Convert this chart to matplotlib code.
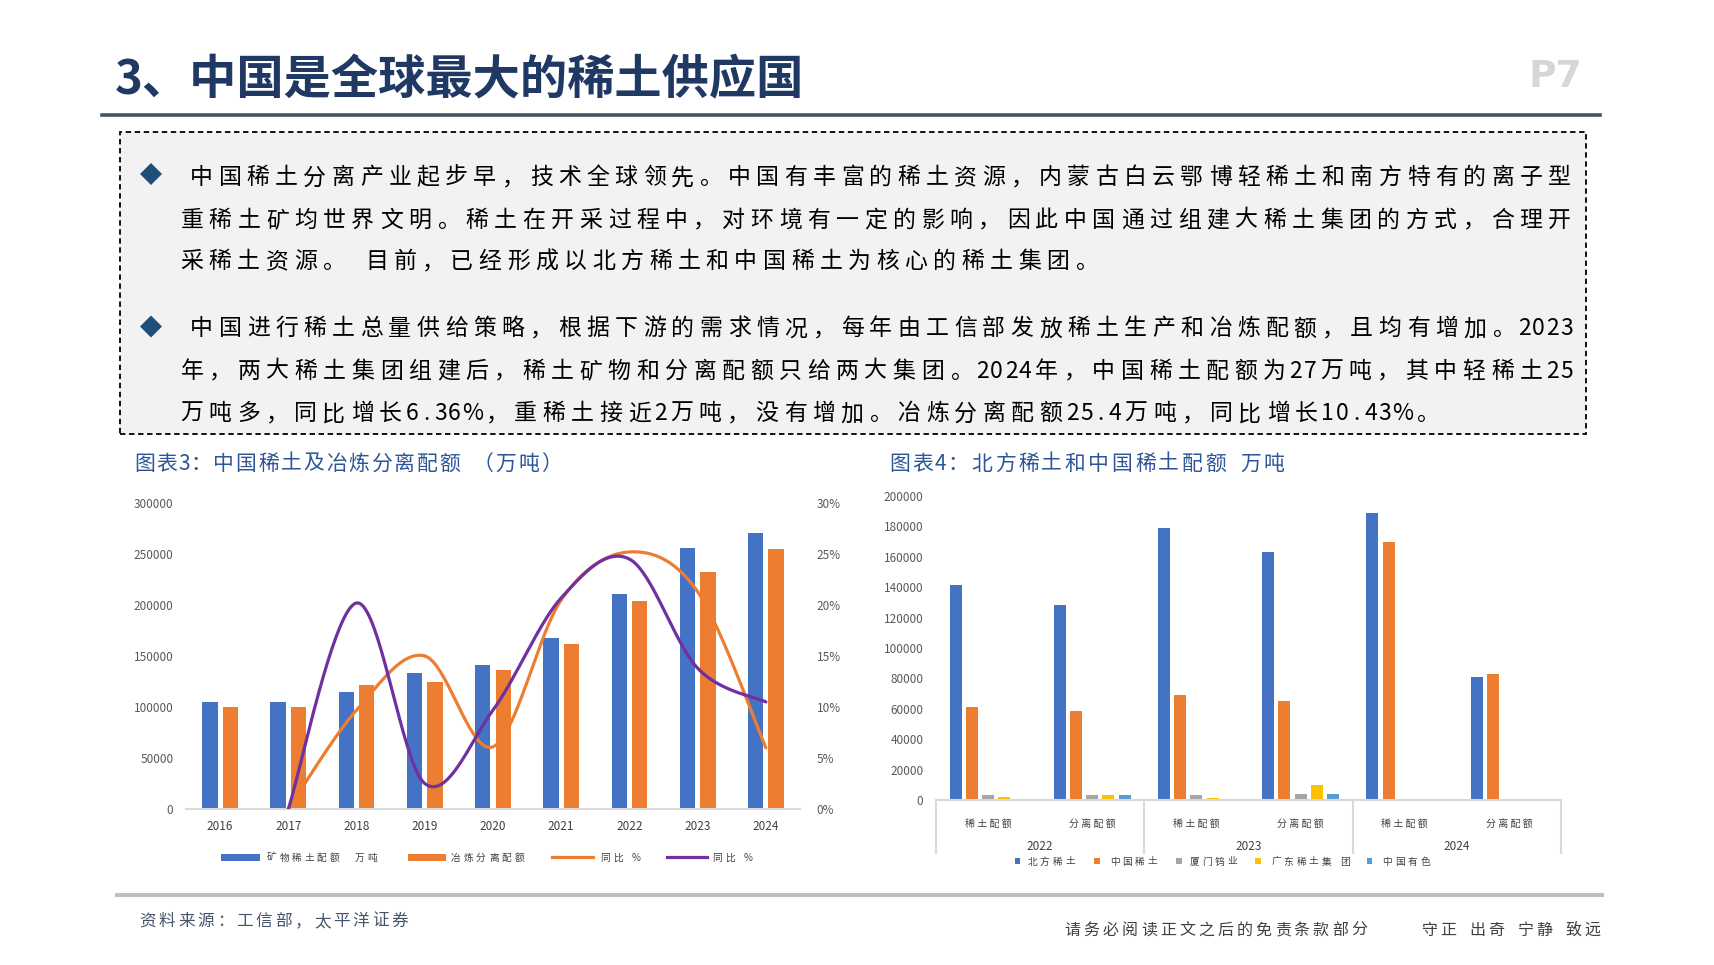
import numpy as np
import matplotlib
matplotlib.use("Agg")
import matplotlib.pyplot as plt
from matplotlib.patches import Rectangle, Polygon
from matplotlib.lines import Line2D

plt.rcParams['font.family'] = ['Noto Sans CJK SC', 'DejaVu Sans']

# ---- data: chart 3 ----
years = ['2016', '2017', '2018', '2019', '2020', '2021', '2022', '2023', '2024']
mine_quota = [105000, 105000, 115000, 133000, 141000, 168000, 211000, 256000, 271000]
smelt_quota = [100000, 100000, 122000, 125000, 136000, 162000, 204000, 232000, 255000]
yoy_smelt = [0, 9.7, 15.0, 6.1, 20.5, 25.2, 21.3, 6.0]     # 2017-2024, %
yoy_mine = [0, 20.2, 2.5, 9.7, 20.7, 24.5, 13.8, 10.5]     # 2017-2024, %

# ---- data: chart 4 ----
quota_cats = ['稀土配额', '分离配额', '稀土配额', '分离配额', '稀土配额', '分离配额']
quota_years = ['2022', '2023', '2024']
north_re = [141650, 128200, 178650, 163000, 188600, 80900]
china_re = [61200, 58500, 69100, 65100, 169600, 82900]
xiamen_w = [3300, 3300, 3300, 3900, 0, 0]
guangdong_re = [2000, 3300, 1500, 9900, 0, 0]
china_nf = [0, 3300, 0, 3900, 0, 0]
company_names = ['北方稀土', '中国稀土', '厦门钨业', '广东稀土集 团', '中国有色']

# ---- text ----
title = '3、中国是全球最大的稀土供应国'
para1 = ['中国稀土分离产业起步早，技术全球领先。中国有丰富的稀土资源，内蒙古白云鄂博轻稀土和南方特有的离子型',
         '重稀土矿均世界文明。稀土在开采过程中，对环境有一定的影响，因此中国通过组建大稀土集团的方式，合理开',
         '采稀土资源。 目前，已经形成以北方稀土和中国稀土为核心的稀土集团。']
para2 = ['中国进行稀土总量供给策略，根据下游的需求情况，每年由工信部发放稀土生产和冶炼配额，且均有增加。2023',
         '年，两大稀土集团组建后，稀土矿物和分离配额只给两大集团。2024年，中国稀土配额为27万吨，其中轻稀土25',
         '万吨多，同比增长6.36%，重稀土接近2万吨，没有增加。冶炼分离配额25.4万吨，同比增长10.43%。']

W, H = 1715, 965
fig = plt.figure(figsize=(W / 100, H / 100), dpi=100)
fig.patch.set_facecolor('white')


def fx(px):
    return px / W


def fy(py):
    return 1 - py / H


def weight(ch, space=0.5):
    if ch == ' ':
        return space
    if ch == '%':
        return 0.75
    if ord(ch) < 128:
        return 0.5
    return 1.0


def spaced(x, yc, s, pitch, size, color='black', space=0.5, **kw):
    # x = left edge of first cell, yc = vertical centre of the CJK glyphs (px from top)
    em = size * 100 / 72
    base = yc + 0.36 * em
    pos = x
    for ch in s:
        w = weight(ch, space) * pitch
        if ch != ' ':
            fig.text(fx(pos + w / 2), fy(base), ch, ha='center', va='baseline',
                     fontsize=size, color=color, **kw)
        pos += w


def justify(x0, x1, yc, s, size, color='black'):
    pitch = (x1 - x0) / sum(weight(c) for c in s)
    spaced(x0, yc, s, pitch, size, color)


# Catmull-Rom smoothing, like Excel's smoothed lines
def smooth(xs, ys, n=40):
    pts = np.column_stack([xs, ys]).astype(float)
    p = np.vstack([pts[0], pts, pts[-1]])
    t = np.linspace(0, 1, n)[:, None]
    out = []
    for i in range(1, len(p) - 2):
        p0, p1, p2, p3 = p[i - 1], p[i], p[i + 1], p[i + 2]
        seg = 0.5 * (2 * p1 + (-p0 + p2) * t + (2 * p0 - 5 * p1 + 4 * p2 - p3) * t ** 2
                     + (-p0 + 3 * p1 - 3 * p2 + p3) * t ** 3)
        out.append(seg)
    return np.vstack(out)


# ---- header ----
em_t = 34 * 100 / 72
fig.text(fx(115), fy(77 + 0.36 * em_t), title, fontsize=34, fontweight='bold',
         color='#1F3864', ha='left', va='baseline')
fig.text(fx(1582), fy(77), 'P7', fontsize=27, fontweight='bold', color='#D6D6D6',
         ha='right', va='center', family='DejaVu Sans')
fig.add_artist(Line2D([fx(102), fx(1600)], [fy(115), fy(115)], color='#44546A', lw=2.6))

# ---- dashed text box ----
fig.add_artist(Rectangle((fx(120), fy(434)), fx(1586) - fx(120), fy(132) - fy(434),
                         facecolor='#F2F2F2', edgecolor='black', lw=1.3,
                         linestyle=(0, (3, 2))))


def diamond(cx, cy, r=11):
    pts = [(fx(cx - r), fy(cy)), (fx(cx), fy(cy - r)), (fx(cx + r), fy(cy)), (fx(cx), fy(cy + r))]
    fig.add_artist(Polygon(pts, closed=True, facecolor='#1F4E79', edgecolor='none'))


body_size = 16.5
diamond(151, 174)
justify(187.6, 1573.7, 176, para1[0], body_size)
justify(177.6, 1573.7, 218.5, para1[1], body_size)
spaced(177.6, 260, para1[2], 28.4, body_size)
diamond(151, 326.5)
justify(187.6, 1573.7, 327, para2[0], body_size)
justify(177.6, 1573.7, 369.5, para2[1], body_size)
spaced(177.6, 412, para2[2], 28.4, body_size)

# ---- chart titles ----
spaced(133, 462, '图表3：中国稀土及冶炼分离配额 （万吨）', 22.6, 15, color='#2E5597')
spaced(888, 462, '图表4：北方稀土和中国稀土配额 万吨', 23.4, 15, color='#2E5597')

tick_col = '#595959'
axis_col = '#D9D9D9'

# ---- chart 3 ----
ax1 = fig.add_axes([fx(186), fy(809), fx(800) - fx(186), fy(503) - fy(809)])
x = np.arange(len(years))
ax1.bar(x - 0.15, mine_quota, 0.225, color='#4472C4', zorder=2)
ax1.bar(x + 0.15, smelt_quota, 0.225, color='#ED7D31', zorder=2)
ax1.set_xlim(-0.5, len(years) - 0.5)
ax1.set_ylim(0, 300000)
ax1.set_yticks(np.arange(0, 300001, 50000))
ax1.set_xticks(x)
ax1.set_xticklabels(years)
for s in ['top', 'right', 'left']:
    ax1.spines[s].set_visible(False)
ax1.spines['bottom'].set_color(axis_col)
ax1.spines['bottom'].set_linewidth(1.5)
ax1.tick_params(axis='y', length=0, pad=9, labelsize=8.5, labelcolor=tick_col)
ax1.tick_params(axis='x', length=0, pad=8, labelsize=8.5, labelcolor='#404040')

ax1r = ax1.twinx()
xl = x[1:]
c1 = smooth(xl, yoy_smelt)
c2 = smooth(xl, yoy_mine)
ax1r.plot(c1[:, 0], c1[:, 1], color='#ED7D31', lw=2.3, solid_capstyle='round')
ax1r.plot(c2[:, 0], c2[:, 1], color='#7030A0', lw=2.3, solid_capstyle='round')
ax1r.set_ylim(0, 30)
ax1r.set_yticks(np.arange(0, 31, 5))
ax1r.set_yticklabels([f'{v}%' for v in range(0, 31, 5)])
for s in ax1r.spines.values():
    s.set_visible(False)
ax1r.tick_params(axis='y', length=0, pad=12, labelsize=8.5, labelcolor=tick_col)

# chart 3 legend
ly = 857.3
fig.add_artist(Rectangle((fx(221), fy(ly + 3.4)), fx(260) - fx(221), fy(ly - 3.4) - fy(ly + 3.4),
                         facecolor='#4472C4', edgecolor='none'))
spaced(265.5, ly, '矿物稀土配额 万吨', 12.5, 7, color='#404040', space=1)
fig.add_artist(Rectangle((fx(408), fy(ly + 3.4)), fx(446.5) - fx(408), fy(ly - 3.4) - fy(ly + 3.4),
                         facecolor='#ED7D31', edgecolor='none'))
spaced(449, ly, '冶炼分离配额', 12.8, 7, color='#404040')
fig.add_artist(Line2D([fx(552), fx(593)], [fy(ly), fy(ly)], color='#ED7D31', lw=2.3))
spaced(599, ly, '同比 %', 12.5, 7, color='#404040', space=0.6)
fig.add_artist(Line2D([fx(667), fx(707.5)], [fy(ly), fy(ly)], color='#7030A0', lw=2.3))
spaced(711, ly, '同比 %', 12.5, 7, color='#404040', space=0.6)

# ---- chart 4 ----
ax2 = fig.add_axes([fx(936), fy(800), fx(1561) - fx(936), fy(496) - fy(800)])
x2 = np.arange(len(quota_cats))
series = [north_re, china_re, xiamen_w, guangdong_re, china_nf]
colors = ['#4472C4', '#ED7D31', '#A5A5A5', '#FFC000', '#5B9BD5']
for k, (vals, col) in enumerate(zip(series, colors)):
    ax2.bar(x2 + (k - 2) * 0.155, vals, 0.115, color=col, zorder=2)
ax2.set_xlim(-0.5, len(quota_cats) - 0.5)
ax2.set_ylim(0, 200000)
ax2.set_yticks(np.arange(0, 200001, 20000))
ax2.set_xticks([])
for s in ['top', 'right', 'left']:
    ax2.spines[s].set_visible(False)
ax2.spines['bottom'].set_color(axis_col)
ax2.spines['bottom'].set_linewidth(1.5)
ax2.tick_params(axis='y', length=0, pad=9, labelsize=8.5, labelcolor=tick_col)

tr = ax2.get_xaxis_transform()
for i, lab in enumerate(quota_cats):
    ax2.text(i, -0.08, ' '.join(lab), transform=tr, ha='center', va='center',
             fontsize=7.2, color='#404040')
for j, yr in enumerate(quota_years):
    ax2.text(2 * j + 0.5, -0.152, yr, transform=tr, ha='center', va='center',
             fontsize=8.5, color='#404040')
for b in np.arange(-0.5, len(quota_cats), 2):
    ax2.plot([b, b], [0, -0.173], transform=tr, color=axis_col, lw=1.5, clip_on=False)

# chart 4 legend
ly2 = 861
leg_sq = [1017.5, 1096.7, 1178.8, 1258, 1369.5]
leg_tx = [1026, 1108.5, 1188, 1269.7, 1381]
for sq, tx, name, col in zip(leg_sq, leg_tx, company_names, colors):
    fig.add_artist(Rectangle((fx(sq - 2.8), fy(ly2 + 2.8)), fx(5.6), fy(0) - fy(5.6),
                             facecolor=col, edgecolor='none'))
    spaced(tx, ly2, name, 12.6, 7, color='#404040', space=0.5)

# ---- footer ----
fig.add_artist(Line2D([fx(117), fx(1602)], [fy(895), fy(895)], color='#BFBFBF', lw=2.9))
spaced(138, 920, '资料来源：工信部，太平洋证券', 19.4, 12, color='#44546A')
spaced(1063, 929, '请务必阅读正文之后的免责条款部分', 19.1, 11.5, color='#404040')
spaced(1420, 929, '守正 出奇 宁静 致远', 18.5, 11.5, color='#404040', space=0.6)

fig.savefig('out.png', dpi=100)
